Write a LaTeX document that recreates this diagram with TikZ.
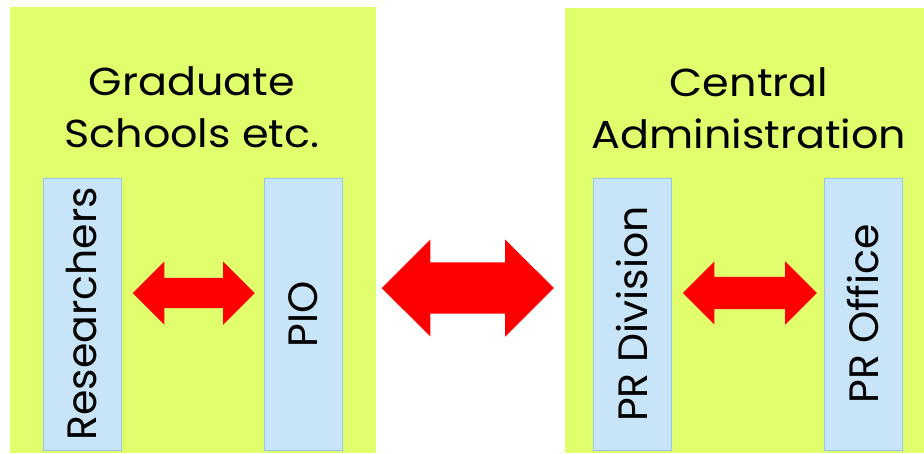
\documentclass[tikz,border=0pt]{standalone}
\usepackage{fontspec}
\setmainfont{Poppins}
\newfontfamily\titlefont[FakeStretch=1.1]{Poppins}
\usetikzlibrary{shapes.arrows,calc}
\definecolor{unitgreen}{RGB}{225,255,108}
\definecolor{staffblue}{RGB}{200,228,248}
\definecolor{staffedge}{RGB}{150,198,232}
\tikzset{
  unit/.style={fill=unitgreen,draw=none,inner sep=0pt},
  unittitle/.style={align=center,font=\titlefont\fontsize{39}{52}\selectfont},
  staff/.style={draw=staffedge,fill=staffblue,line width=0.8pt,rotate=90,
    inner sep=0pt,minimum width=272pt,minimum height=78pt,
    font=\fontsize{41}{44}\selectfont},
  link/.style={double arrow,fill=red,draw=none,inner xsep=0pt,
    double arrow tip angle=90}
}
\begin{document}
\begin{tikzpicture}[x=1pt,y=-1pt]
\useasboundingbox (0,0) rectangle (924,453);
\node[unit,minimum width=366pt,minimum height=446pt] (grad) at (193,230) {};
\node[unit,minimum width=359pt,minimum height=445pt] (admin) at (744.5,230.5) {};
\node[unittitle] (gradtitle) at (192,107) {Graduate\\Schools etc.};
\node[unittitle] (admintitle) at (749,108) {Central\\Administration};
\node[staff] (res) at (82,314) {Researchers};
\node[staff] (pio) at (303.5,314) {PIO};
\node[staff] (prdiv) at (632,314) {PR Division};
\node[staff] (proff) at (863.5,314) {PR Office};
% arrows between the boxes
\node[link,minimum height=122pt,inner ysep=15pt,double arrow head extend=16.5pt]
  (respio) at ($(res.center)!0.5!(pio.center)+(1,-21)$) {};
\node[link,minimum height=172pt,inner ysep=25.5pt,double arrow head extend=23pt]
  (piopr) at ($(pio.center)!0.5!(prdiv.center)+(0,-26)$) {};
\node[link,minimum height=134pt,inner ysep=16pt,double arrow head extend=15.5pt]
  (prpr) at ($(prdiv.center)!0.5!(proff.center)+(2,-21)$) {};
\end{tikzpicture}
\end{document}
